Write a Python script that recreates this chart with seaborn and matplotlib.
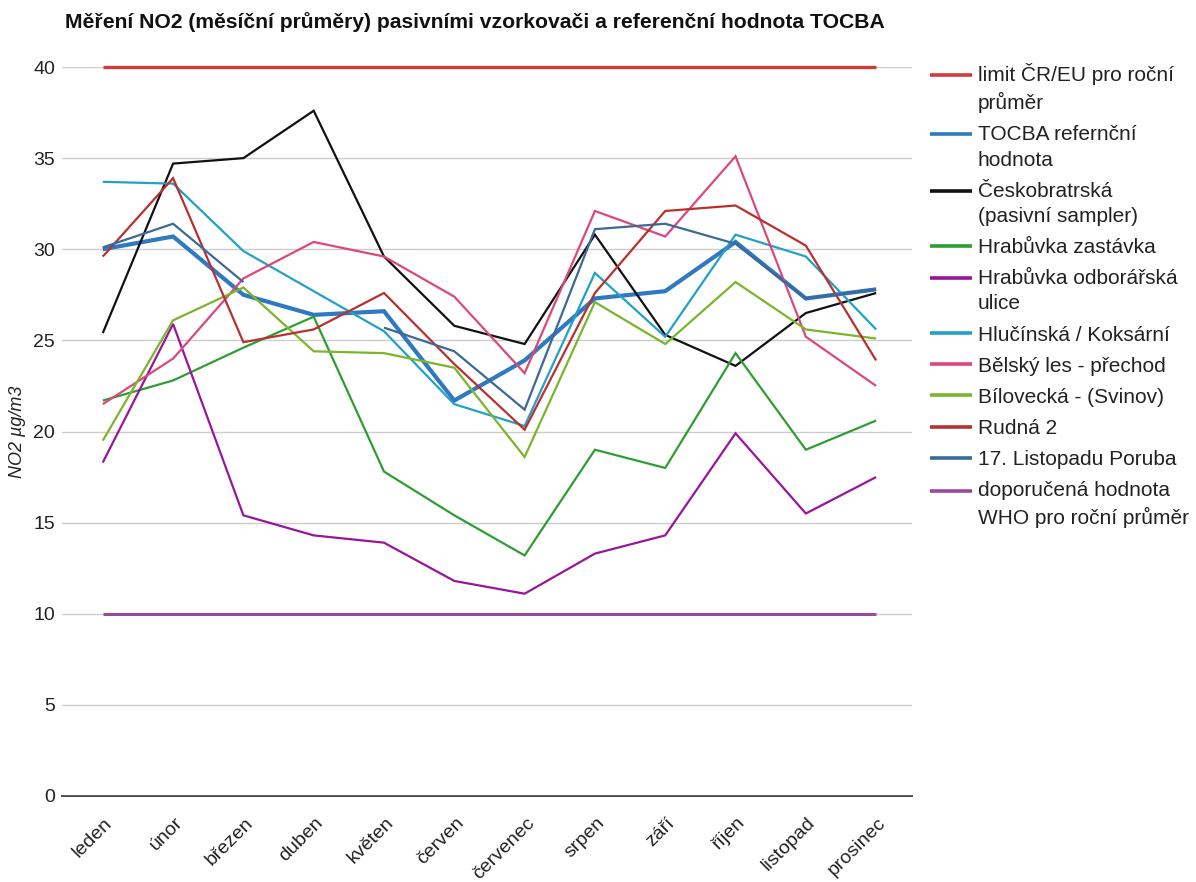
import numpy as np
import pandas as pd
import matplotlib
matplotlib.use("Agg")
import matplotlib.pyplot as plt
import matplotlib.transforms as mtransforms
from matplotlib.legend_handler import HandlerLine2D
import seaborn as sns

# Month labels (x axis)
months = ["leden", "únor", "březen", "duben", "květen", "červen",
          "červenec", "srpen", "září", "říjen", "listopad", "prosinec"]

# Monthly NO2 averages, µg/m3
limit_cr_eu = [40, 40, 40, 40, 40, 40, 40, 40, 40, 40, 40, 40]
tocba = [30.0, 30.7, 27.5, 26.4, 26.6, 21.7, 23.9, 27.3, 27.7, 30.4, 27.3, 27.8]
ceskobratrska = [25.4, 34.7, 35.0, 37.6, 29.6, 25.8, 24.8, 30.8, 25.3, 23.6, 26.5, 27.6]
hrabuvka_zastavka = [21.7, 22.8, 24.6, 26.3, 17.8, 15.4, 13.2, 19.0, 18.0, 24.3, 19.0, 20.6]
hrabuvka_odborarska = [18.3, 25.9, 15.4, 14.3, 13.9, 11.8, 11.1, 13.3, 14.3, 19.9, 15.5, 17.5]
hlucinska = [33.7, 33.6, 29.9, 27.7, 25.5, 21.5, 20.3, 28.7, 25.2, 30.8, 29.6, 25.6]
belsky_les = [21.5, 24.0, 28.4, 30.4, 29.6, 27.4, 23.2, 32.1, 30.7, 35.1, 25.2, 22.5]
bilovecka = [19.5, 26.1, 27.9, 24.4, 24.3, 23.5, 18.6, 27.1, 24.8, 28.2, 25.6, 25.1]
rudna = [29.6, 33.9, 24.9, 25.6, 27.6, 23.7, 20.1, 27.6, 32.1, 32.4, 30.2, 23.9]
listopadu_poruba = [30.1, 31.4, 28.2, np.nan, 25.7, 24.4, 21.2, 31.1, 31.4, 30.3, 27.3, 27.8]
who_limit = [10, 10, 10, 10, 10, 10, 10, 10, 10, 10, 10, 10]

series_names = [
    "limit ČR/EU pro roční\nprůměr",
    "TOCBA refernční\nhodnota",
    "Českobratrská\n(pasivní sampler)",
    "Hrabůvka zastávka",
    "Hrabůvka odborářská\nulice",
    "Hlučínská / Koksární",
    "Bělský les - přechod",
    "Bílovecká - (Svinov)",
    "Rudná 2",
    "17. Listopadu Poruba",
    "doporučená hodnota\nWHO pro roční průměr",
]
series_values = [limit_cr_eu, tocba, ceskobratrska, hrabuvka_zastavka,
                 hrabuvka_odborarska, hlucinska, belsky_les, bilovecka,
                 rudna, listopadu_poruba, who_limit]
series_colors = ["#d23b3b", "#2f79c1", "#111111", "#2e9e32", "#97169a",
                 "#22a0c8", "#dc4879", "#7bb52c", "#b83030", "#3c6998",
                 "#9a4a9c"]
series_widths = [2.4, 3.0, 1.6, 1.6, 1.6, 1.6, 1.6, 1.6, 1.6, 1.6, 2.2]


class FirstLineHandler(HandlerLine2D):
    """Line handle aligned with the first line of a wrapped label."""

    def __init__(self, shift, **kw):
        super().__init__(**kw)
        self.shift = shift

    def create_artists(self, legend, orig_handle, xdescent, ydescent,
                       width, height, fontsize, trans):
        return super().create_artists(legend, orig_handle, xdescent,
                                      ydescent - self.shift, width, height,
                                      fontsize, trans)


sns.set_theme(style="white")
plt.rcParams["font.family"] = ["Liberation Sans", "DejaVu Sans"]

fig = plt.figure(figsize=(11.96, 8.82), dpi=100)
ax = fig.add_axes([62 / 1196, 1 - 796 / 882, 850 / 1196, 729 / 882])

x_idx = np.arange(len(months))
for name, vals, col, lw in zip(series_names, series_values, series_colors, series_widths):
    df = pd.DataFrame({"x": x_idx, "y": vals})
    # split into contiguous runs so missing months leave a gap
    valid = df["y"].notna()
    run_id = df["y"].isna().cumsum()
    first = True
    for _, seg in df[valid].groupby(run_id[valid]):
        sns.lineplot(data=seg, x="x", y="y", ax=ax, color=col, linewidth=lw,
                     label=name if first else None, clip_on=False,
                     solid_joinstyle="miter", solid_capstyle="butt")
        first = False

ax.set_xlim(-0.58, 11.51)
ax.set_ylim(0, 40)
ax.set_yticks(np.arange(0, 41, 5))
ax.yaxis.grid(True, color="#cccccc", linewidth=1.0)
ax.xaxis.grid(False)
ax.set_axisbelow(True)
for s in ["top", "right", "left"]:
    ax.spines[s].set_visible(False)
ax.spines["bottom"].set_color("#333333")
ax.spines["bottom"].set_linewidth(1.3)
ax.spines["bottom"].set_zorder(0.5)

ax.tick_params(axis="y", length=0, pad=5, labelsize=14, labelcolor="#222222")
ax.tick_params(axis="x", length=0, pad=4, labelsize=14, labelcolor="#222222")
ax.set_xticks(x_idx)
ax.set_xticklabels(months, rotation=45, ha="right", va="center",
                   rotation_mode="anchor")
offset = mtransforms.ScaledTranslation(7 / 100, -19 / 100, fig.dpi_scale_trans)
for lbl in ax.get_xticklabels():
    lbl.set_transform(lbl.get_transform() + offset)

ax.set_xlabel("")
ax.set_ylabel("NO2 µg/m3", fontsize=13, fontstyle="italic", color="#222222",
              labelpad=5)

fig.text(65 / 1196, 1 - 22 / 882,
         "Měření NO2 (měsíční průměry) pasivními vzorkovači a referenční hodnota TOCBA",
         fontsize=15.2, fontweight="bold", ha="left", va="center",
         family=["Liberation Sans", "DejaVu Sans"], color="#111111")

handles, labels = ax.get_legend_handles_labels()
handler_map = {h: FirstLineHandler(19.5) for h, l in zip(handles, labels) if "\n" in l}
leg = ax.legend(handles, labels, handler_map=handler_map,
                loc="upper left", bbox_to_anchor=(930 / 1196, 1 - 63 / 882),
                bbox_transform=fig.transFigure, frameon=False, fontsize=15,
                handlelength=2.0, handletextpad=0.3, labelspacing=0.58,
                borderpad=0, borderaxespad=0)
for t in leg.get_texts():
    t.set_linespacing(1.42)
    t.set_color("#222222")
for h in leg.get_lines():
    h.set_linewidth(2.6)

fig.savefig("out.png", dpi=100)
